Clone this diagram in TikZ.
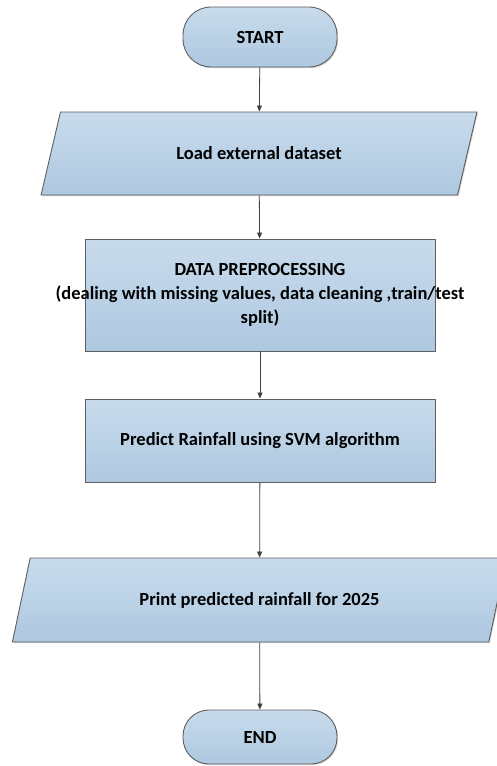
\documentclass[tikz,border=0pt]{standalone}
\usepackage{fontspec}
\setmainfont{Carlito}
\usetikzlibrary{shapes.geometric,arrows.meta,shadows}
\definecolor{boxtop}{HTML}{C8DBEC}
\definecolor{boxbot}{HTML}{AEC8E0}
\definecolor{edge}{HTML}{5E5E5E}
\definecolor{wire}{HTML}{404040}
\begin{document}
\begin{tikzpicture}[x=1pt, y=-1pt,
    every node/.style={font=\fontsize{18.5}{24}\selectfont\bfseries},
    flowbox/.style={draw=edge, line width=0.9pt, top color=boxtop, bottom color=boxbot,
        drop shadow={shadow xshift=1pt, shadow yshift=-1.2pt, opacity=0.35}},
    terminal/.style={flowbox, rectangle, rounded corners=28pt, minimum width=154pt},
    iobox/.style={flowbox, trapezium, trapezium left angle=67, trapezium right angle=113,
        trapezium stretches=true},
    procbox/.style={flowbox, rectangle, minimum width=350pt},
    link/.style={wire, line width=0.8pt, -{Triangle[width=5pt,length=6pt]}}]
    \useasboundingbox (0,0) rectangle (497,766);
    \node[terminal, minimum height=60pt] (start) at (260,37) {START};
    \node[iobox, minimum width=436pt, minimum height=83pt] (load) at (259,153.5) {Load external dataset};
    \node[procbox, minimum height=112pt, inner xsep=-70pt, align=center] (prep) at (260,295)
        {DATA PREPROCESSING\\(dealing with missing values, data cleaning ,train/test\\split)};
    \node[procbox, minimum height=83pt] (svm) at (260,440.5) {Predict Rainfall using SVM algorithm};
    \node[iobox, minimum width=495pt, minimum height=84pt] (print) at (259.5,600) {Print predicted rainfall for 2025};
    \node[terminal, minimum height=54pt, rounded corners=26pt] (end) at (260,737) {END};
    \draw[link] (start) -- (load);
    \draw[link] (load) -- (prep);
    \draw[link] (prep) -- (svm);
    \draw[link] (svm) -- (print);
    \draw[link] (print) -- (end);
\end{tikzpicture}
\end{document}
